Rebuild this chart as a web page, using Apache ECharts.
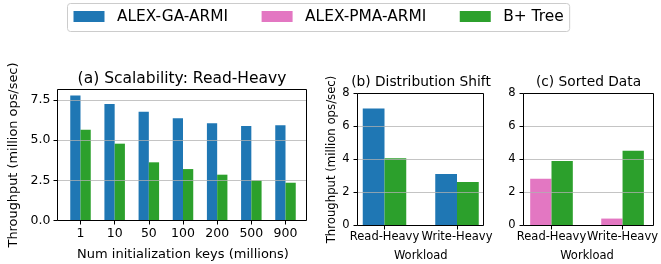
<!DOCTYPE html>
<html>
<head>
<meta charset="utf-8">
<script src="https://cdn.jsdelivr.net/npm/echarts@6/dist/echarts.min.js"></script>
<style>
html,body{margin:0;padding:0;background:#fff;}
#c{width:661px;height:264px;}
</style>
</head>
<body>
<div id="c"></div>
<script>
// ---- data ----
const seriesNames = ['ALEX-GA-ARMI', 'ALEX-PMA-ARMI', 'B+ Tree'];
const scaleKeys = ['1', '10', '50', '100', '200', '500', '900'];
const scaleGA = [7.78, 7.25, 6.77, 6.36, 6.05, 5.88, 5.92];
const scaleBTree = [5.65, 4.78, 3.62, 3.20, 2.85, 2.49, 2.35];
const workloads = ['Read-Heavy', 'Write-Heavy'];
const shiftGA = [7.09, 3.12];
const shiftBTree = [4.07, 2.64];
const sortedPMA = [2.84, 0.42];
const sortedBTree = [3.91, 4.53];

const BLUE = '#1f77b4', PINK = '#e377c2', GREEN = '#2ca02c';
const FONT = 'DejaVu Sans';
const GRIDLINE = 'rgba(176,176,176,0.75)';

const chart = echarts.init(document.getElementById('c'), null, {renderer: 'canvas'});

function frameGrid(left, top, width, height) {
  return {left, top, width, height, show: true, borderColor: '#000', borderWidth: 1,
          backgroundColor: 'transparent', containLabel: false, z: 5};
}
function dataGrid(left, top, width, height) {
  return {left, top, width, height, show: false, containLabel: false};
}

const grids = [
  frameGrid(57.5, 89.5, 249, 131),
  dataGrid(80.5, 89.5, 205, 131),
  frameGrid(357.5, 93.5, 126, 132),
  dataGrid(384.5, 93.5, 72.5, 132),
  frameGrid(523.5, 93.5, 130, 132),
  dataGrid(551.5, 93.5, 74, 132)
];

function frameX(i) {
  return {type: 'value', gridIndex: i, show: false, min: 0, max: 1};
}
function dataX(i, cats, fs, name, nameFs, nameGap, labelMargin) {
  return {
    type: 'category', gridIndex: i, data: cats, boundaryGap: false,
    axisLine: {show: false},
    axisTick: {show: true, length: 4, alignWithLabel: true, lineStyle: {color: '#000', width: 1}},
    axisLabel: {color: '#000', fontFamily: FONT, fontSize: fs, margin: labelMargin, interval: 0},
    splitLine: {show: false},
    name: name, nameLocation: 'middle', nameGap: nameGap,
    nameTextStyle: {color: '#000', fontFamily: FONT, fontSize: nameFs}
  };
}
function frameY(i, max, interval, fs, oneDecimal, name, nameGap, nameFs, margin) {
  return {
    type: 'value', gridIndex: i, min: 0, max: max, interval: interval, z: 4,
    axisLine: {show: false},
    axisTick: {show: true, length: 4, lineStyle: {color: '#000', width: 1}},
    axisLabel: {color: '#000', fontFamily: FONT, fontSize: fs, margin: margin,
      showMaxLabel: !oneDecimal,
      formatter: v => oneDecimal ? v.toFixed(1) : String(v)},
    splitLine: {show: true, lineStyle: {color: GRIDLINE, width: 1}},
    name: name, nameLocation: 'middle', nameRotate: 90, nameGap: nameGap,
    nameTextStyle: {color: '#000', fontFamily: FONT, fontSize: nameFs}
  };
}
function dataY(i, max) {
  return {type: 'value', gridIndex: i, min: 0, max: max, show: false, splitLine: {show: false}};
}

const yName = 'Throughput (million ops/sec)';
const aMax = 8.15;

function bar(name, data, color, idx) {
  return {
    type: 'bar', name: name, data: data, xAxisIndex: idx, yAxisIndex: idx,
    barWidth: '30%', barGap: '0%', z: 2,
    itemStyle: {color: color},
    emphasis: {disabled: true}, animation: false
  };
}

const option = {
  animation: false,
  textStyle: {fontFamily: FONT},
  legend: {
    data: seriesNames, left: 67.5, top: 3.5, orient: 'horizontal',
    icon: 'rect', itemWidth: 31, itemHeight: 11, itemGap: 33.5,
    padding: [4, 6, 6, 6],
    borderColor: '#cccccc', borderWidth: 1, borderRadius: 3,
    textStyle: {color: '#000', fontFamily: FONT, fontSize: 15.4, padding: [0, 0, 0, 7.5], lineHeight: 18},
    selectedMode: false
  },
  title: [
    {text: '(a) Scalability: Read-Heavy', left: 182, top: 78.5, textAlign: 'center', textVerticalAlign: 'middle', padding: 0,
     textStyle: {color: '#000', fontFamily: FONT, fontSize: 15.5, fontWeight: 'normal'}},
    {text: '(b) Distribution Shift', left: 421, top: 82.5, textAlign: 'center', textVerticalAlign: 'middle', padding: 0,
     textStyle: {color: '#000', fontFamily: FONT, fontSize: 13.75, fontWeight: 'normal'}},
    {text: '(c) Sorted Data', left: 588.5, top: 82, textAlign: 'center', textVerticalAlign: 'middle', padding: 0,
     textStyle: {color: '#000', fontFamily: FONT, fontSize: 13.75, fontWeight: 'normal'}}
  ],
  grid: grids,
  xAxis: [
    frameX(0),
    dataX(1, scaleKeys, 12.5, 'Num initialization keys (millions)', 13, 28, 7),
    frameX(2),
    dataX(3, workloads, 11.5, 'Workload', 11.5, 25, 6),
    frameX(4),
    dataX(5, workloads, 11.5, 'Workload', 11.5, 25, 6)
  ],
  yAxis: [
    frameY(0, aMax, 2.5, 12.5, true, yName, 37, 12.9, 7),
    dataY(1, aMax),
    frameY(2, 8, 2, 11.5, false, yName, 20, 11.7, 8),
    dataY(3, 8),
    frameY(4, 8, 2, 11.5, false, '', 20, 11.7, 8),
    dataY(5, 8)
  ],
  series: [
    bar(seriesNames[0], scaleGA, BLUE, 1),
    bar(seriesNames[2], scaleBTree, GREEN, 1),
    bar(seriesNames[0], shiftGA, BLUE, 3),
    bar(seriesNames[2], shiftBTree, GREEN, 3),
    bar(seriesNames[1], sortedPMA, PINK, 5),
    bar(seriesNames[2], sortedBTree, GREEN, 5)
  ]
};
chart.setOption(option);
</script>
</body>
</html>
